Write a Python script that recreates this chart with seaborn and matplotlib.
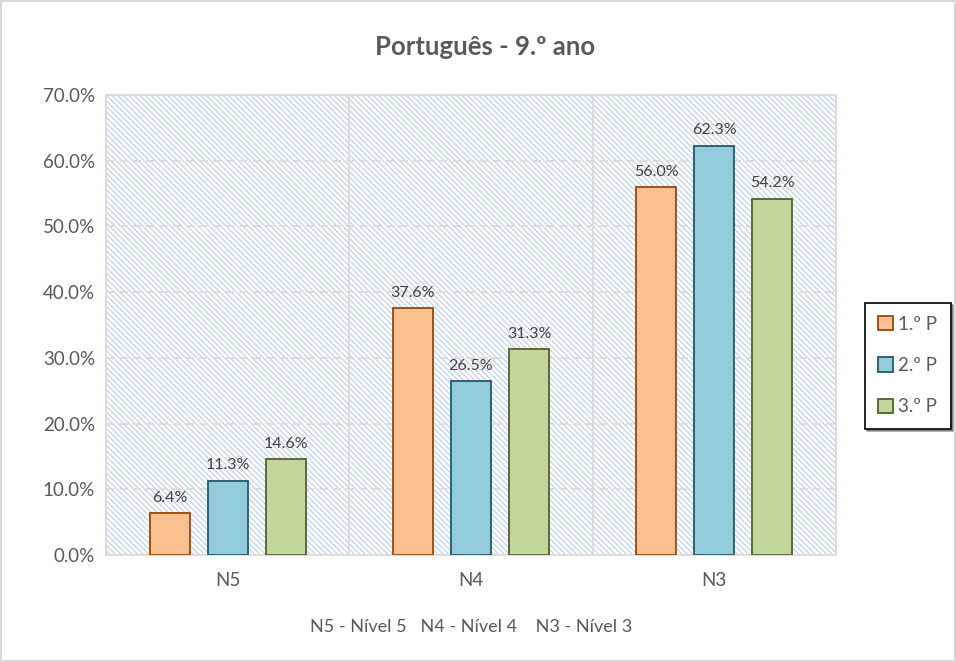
import matplotlib
matplotlib.use('Agg')
import matplotlib.pyplot as plt
import seaborn as sns
import pandas as pd
from matplotlib.patches import Rectangle, Patch
from matplotlib.ticker import FuncFormatter, FixedLocator

# data
categories = ['N5', 'N4', 'N3']
periods = ['1.º P', '2.º P', '3.º P']
p1 = [6.4, 37.6, 56.0]
p2 = [11.3, 26.5, 62.3]
p3 = [14.6, 31.3, 54.2]
fill_colors = ['#FAC090', '#93CDDD', '#C3D69B']
edge_colors = ['#984807', '#215968', '#4F6228']

df = pd.DataFrame({
    'nivel': categories * 3,
    'periodo': [p for p in periods for _ in categories],
    'valor': p1 + p2 + p3,
})

sns.set_style("white")
plt.rcParams['font.family'] = ['Lato', 'DejaVu Sans']
plt.rcParams['hatch.linewidth'] = 0.6
plt.rcParams['hatch.color'] = '#A8C2E6'

fig = plt.figure(figsize=(9.56, 6.62), dpi=100)
fig.patch.set_edgecolor('#D9D9D9')
fig.patch.set_linewidth(1.5)
ax = fig.add_axes([106/956, 1 - 555/662, 730/956, 460/662])

# hatched plot area
ax.patch.set_facecolor('none')
bg = Rectangle((0, 0), 1, 1, transform=ax.transAxes, facecolor='white',
               edgecolor='#A8C2E6', hatch='\\' * 6, linewidth=0, zorder=0)
ax.add_patch(bg)

sns.barplot(data=df, x='nivel', y='valor', hue='periodo', palette=fill_colors,
            saturation=1, width=0.716, gap=0.31, ax=ax, legend=False, zorder=3)

for cont, ec in zip(ax.containers, edge_colors):
    for bar in cont:
        bar.set_edgecolor(ec)
        bar.set_linewidth(1.3)
    ax.bar_label(cont, fmt='%.1f%%', padding=6, fontsize=11.5, color='#404040')

ax.set_ylim(0, 70)
ax.set_xlim(-0.5, 2.5)
ax.yaxis.set_major_locator(FixedLocator([0, 10, 20, 30, 40, 50, 60, 70]))
ax.yaxis.set_major_formatter(FuncFormatter(lambda v, _: f'{v:.1f}%'))
ax.xaxis.set_minor_locator(FixedLocator([-0.5, 0.5, 1.5, 2.5]))
ax.tick_params(axis='x', which='major', length=0, pad=12, labelsize=13.5, labelcolor='#595959')
ax.tick_params(axis='x', which='minor', length=8, color='#D9D9D9', width=1.2)
ax.tick_params(axis='y', length=0, pad=8, labelsize=13.5, labelcolor='#595959')

ax.grid(axis='y', which='major', color='#D9D9D9', linestyle=(0, (5, 3)), linewidth=1.2, zorder=1)
ax.grid(axis='x', which='minor', color='#D9D9D9', linestyle='-', linewidth=1.2, zorder=1)
ax.set_axisbelow(True)
for s in ax.spines.values():
    s.set_visible(True)
    s.set_color('#D9D9D9')
    s.set_linewidth(1.2)

ax.set_xlabel('N5 - Nível 5   N4 - Nível 4    N3 - Nível 3', fontsize=13,
              color='#595959', labelpad=22)
ax.set_ylabel('')
fig.text(0.507, 1 - 47/662, 'Português - 9.º ano', ha='center', va='center',
         fontsize=18.5, fontweight='bold', color='#595959')

handles = [Patch(facecolor=fc, edgecolor=ec, linewidth=1.3) for fc, ec in zip(fill_colors, edge_colors)]
leg = fig.legend(handles, periods, loc='center', bbox_to_anchor=(907.5/956, 1 - 365.5/662),
                 frameon=True, fancybox=False, shadow=True, fontsize=13.5,
                 handlelength=0.8, handleheight=0.8, handletextpad=0.3,
                 labelspacing=1.3, borderpad=0.7)
leg.get_frame().set_edgecolor('black')
leg.get_frame().set_linewidth(1.2)
for t in leg.get_texts():
    t.set_color('#595959')

fig.savefig('out.png', dpi=100)
